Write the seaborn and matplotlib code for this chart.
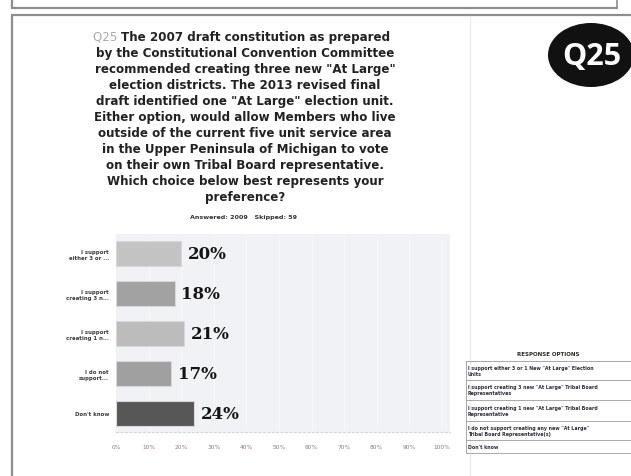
import matplotlib
matplotlib.use("Agg")
import matplotlib.pyplot as plt
import matplotlib.patches as mpatches
from matplotlib.lines import Line2D
import seaborn as sns
import pandas as pd

# ---- data ----
categories = ["I support\neither 3 or ...", "I support\ncreating 3 n...", "I support\ncreating 1 n...",
              "I do not\nsupport...", "Don't know"]
values = [20, 18, 21, 17, 24]
bar_colors = ["#c3c3c3", "#a2a2a2", "#bcbcbc", "#a0a0a0", "#575757"]
x_ticks = [0, 10, 20, 30, 40, 50, 60, 70, 80, 90, 100]
x_tick_labels = ["0%", "10%", "20%", "30%", "40%", "50%", "60%", "70%", "80%", "90%", "100%"]
title_lines = [
    "The 2007 draft constitution as prepared",
    "by the Constitutional Convention Committee",
    "recommended creating three new \"At Large\"",
    "election districts. The 2013 revised final",
    "draft identified one \"At Large\" election unit.",
    "Either option, would allow Members who live",
    "outside of the current five unit service area",
    "in the Upper Peninsula of Michigan to vote",
    "on their own Tribal Board representative.",
    "Which choice below best represents your",
    "preference?",
]
answered_text = "Answered: 2009   Skipped: 59"
legend_title = "RESPONSE OPTIONS"
legend_rows = [
    "I support either 3 or 1 New \"At Large\" Election\nUnits",
    "I support creating 3 new \"At Large\" Tribal Board\nRepresentatives",
    "I support creating 1 new \"At Large\" Tribal Board\nRepresentative",
    "I do not support creating any new \"At Large\"\nTribal Board Representative(s)",
    "Don't know",
]

W, H = 631, 477
def fx(px): return px / W
def fy(py): return 1 - py / H

sns.set_theme(style="white")
plt.rcParams['font.family'] = ['DejaVu Sans']

fig = plt.figure(figsize=(W / 100, H / 100), dpi=100)
fig.patch.set_facecolor("white")

# ---- frame lines ----
frame_c = "#8e8e92"
fig.add_artist(Line2D([fx(12), fx(617)], [fy(9), fy(9)], color=frame_c, lw=1.6))
fig.add_artist(Line2D([fx(12), fx(12)], [fy(0), fy(9)], color=frame_c, lw=1.6))
fig.add_artist(Line2D([fx(617), fx(617)], [fy(0), fy(9)], color=frame_c, lw=1.2))
fig.add_artist(Line2D([fx(12), fx(631)], [fy(16), fy(16)], color=frame_c, lw=1.6))
fig.add_artist(Line2D([fx(12), fx(12)], [fy(16), fy(477)], color=frame_c, lw=1.6))
fig.add_artist(Line2D([fx(470), fx(470)], [fy(17), fy(477)], color="#ececec", lw=1.0))

# ---- title ----
y0 = 37
for i, line in enumerate(title_lines):
    t = fig.text(fx(256) if i == 0 else fx(245), fy(y0 + i * 16.1), line, ha="center", va="center",
                 fontsize=8.6, fontweight="bold", color="#222222")
    if i == 0:
        fig.add_artist(matplotlib.text.Annotation("Q25 ", xy=(0, 0), xycoords=t, ha="right", va="bottom",
                                                  fontsize=8.6, color="#a8a8a8"))
fig.text(fx(244), fy(217), answered_text, ha="center", va="center", fontsize=4.6,
         fontweight="bold", color="#333333")

# ---- Q25 badge ----
badge = mpatches.Ellipse((fx(591), fy(56)), width=fx(86), height=64 / H, transform=fig.transFigure,
                         facecolor="#111111", edgecolor="none")
fig.add_artist(badge)
fig.text(fx(592), fy(57), "Q25", ha="center", va="center", fontsize=22, fontweight="bold",
         color="white", family=['Open Sans', 'DejaVu Sans'])

# ---- bar chart ----
ax = fig.add_axes([fx(116), fy(433), fx(450) - fx(116), (433 - 235) / H])
df = pd.DataFrame({"category": categories, "value": values})
sns.barplot(data=df, x="value", y="category", hue="category", palette=bar_colors, legend=False,
            width=0.625, edgecolor="#d8d8d8", linewidth=0.8, ax=ax, orient="h")
ax.set_facecolor("#f0f2f5")
ax.set_xlim(0, 102.5)
ax.set_ylim(4.47, -0.49)
ax.set_xlabel("")
ax.set_ylabel("")
ax.set_xticks(x_ticks)
ax.set_xticklabels(x_tick_labels, fontsize=4.2, color="#8a7d74")
ax.tick_params(axis="x", length=0, pad=8.5)
ax.tick_params(axis="y", length=0, pad=5)
for lab in ax.get_yticklabels():
    lab.set_fontsize(3.9)
    lab.set_fontweight("bold")
    lab.set_color("#3a3a3a")
    lab.set_multialignment("right")
for s in ["top", "right", "left"]:
    ax.spines[s].set_visible(False)
ax.spines["bottom"].set_color("#d6d6d6")
ax.spines["bottom"].set_linestyle((0, (2, 2)))
ax.spines["bottom"].set_linewidth(0.8)
for xv in x_ticks[1:]:
    ax.axvline(xv, color="#f5f6f8", lw=1.0, zorder=0)

for cont in ax.containers:
    for rect in cont:
        w = rect.get_width()
        yc = rect.get_y() + rect.get_height() / 2
        ax.annotate(f"{w:.0f}%", xy=(w, yc), xytext=(4.5, 0), textcoords="offset points",
                    ha="left", va="center", fontsize=12, fontweight="heavy", color="#151515",
                    family=['DejaVu Serif', 'DejaVu Sans'])

# ---- response options table ----
lx0, lx1 = 466, 631
fig.text(fx(548), fy(355), legend_title, ha="center", va="center", fontsize=4.0,
         fontweight="bold", color="#2a2a2a")
row_edges = [362, 381, 401, 422, 441, 454]
for yy in row_edges:
    fig.add_artist(Line2D([fx(lx0), fx(lx1)], [fy(yy), fy(yy)], color="#9a9a9a", lw=0.6))
fig.add_artist(Line2D([fx(lx0), fx(lx0)], [fy(362), fy(454)], color="#9a9a9a", lw=0.6))
for i, txt in enumerate(legend_rows):
    yc = (row_edges[i] + row_edges[i + 1]) / 2
    fig.text(fx(468), fy(yc), txt, ha="left", va="center", fontsize=3.4, color="#2c2c3c",
             fontweight="bold", linespacing=1.25)

fig.savefig("out.png", dpi=100)
